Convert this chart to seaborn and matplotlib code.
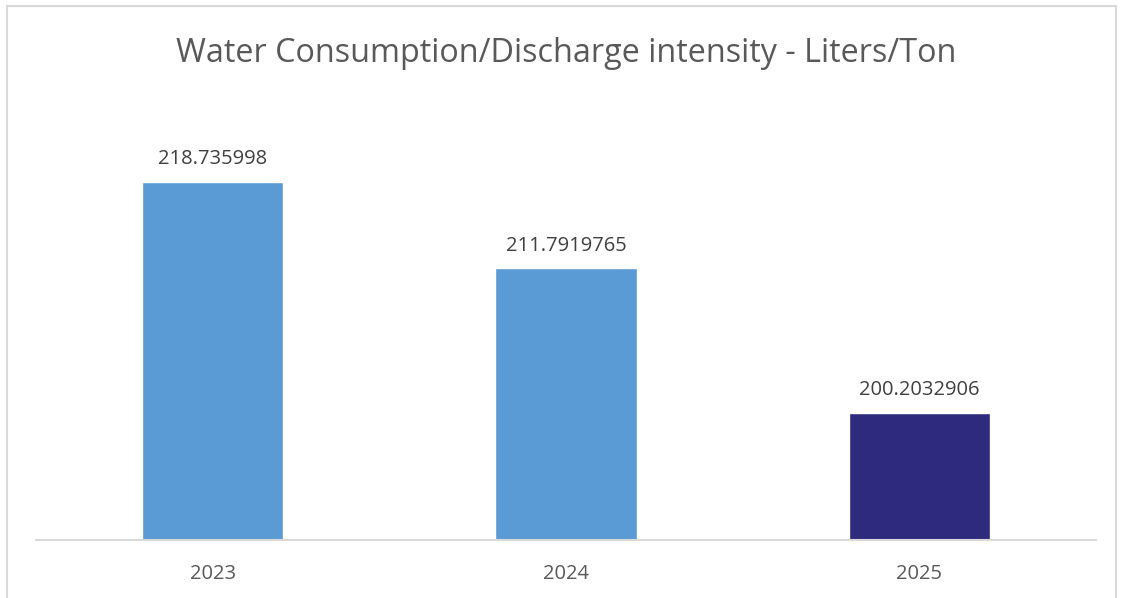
import matplotlib
matplotlib.use("Agg")
import matplotlib.pyplot as plt
import seaborn as sns
import pandas as pd
from matplotlib.patches import Rectangle

years = ["2023", "2024", "2025"]
intensity = [218.735998, 211.7919765, 200.2032906]
value_labels = ["218.735998", "211.7919765", "200.2032906"]
bar_colors = ["#5B9BD5", "#5B9BD5", "#2E2A7E"]
title = "Water Consumption/Discharge intensity - Liters/Ton"

sns.set_theme(style="white")
plt.rcParams["font.family"] = ["Open Sans", "DejaVu Sans"]

W, H = 1123, 598
fig = plt.figure(figsize=(W / 100, H / 100), dpi=100)
ax = fig.add_axes([36 / W, (H - 540) / H, (1096 - 36) / W, (540 - 166) / H])

df = pd.DataFrame({"year": years, "value": intensity})
sns.barplot(data=df, x="year", y="value", hue="year", palette=bar_colors,
            width=0.4, legend=False, ax=ax, saturation=1)

ax.set_ylim(190, 220)
ax.set_xlim(-0.5, 2.5)
ax.set_xlabel("")
ax.set_ylabel("")
ax.set_yticks([])
for s in ["top", "right", "left"]:
    ax.spines[s].set_visible(False)
ax.spines["bottom"].set_color("#D9D9D9")
ax.spines["bottom"].set_linewidth(1.5)
ax.tick_params(axis="x", length=0, pad=17.5, labelsize=14.5, labelcolor="#595959")

for i, (v, lab) in enumerate(zip(intensity, value_labels)):
    ax.annotate(lab, (i, v), xytext=(0, 9), textcoords="offset points",
                ha="center", va="bottom", fontsize=14.5, color="#404040")

fig.text(566 / W, 1 - 53 / H, title, ha="center", va="center",
         fontsize=23.3, color="#595959")

fig.patches.append(Rectangle((7 / W, -0.05), (1116 - 7) / W, 1 - 6 / H + 0.05,
                             transform=fig.transFigure, fill=False,
                             edgecolor="#D9D9D9", linewidth=1.5))

fig.savefig("out.png", dpi=100)
